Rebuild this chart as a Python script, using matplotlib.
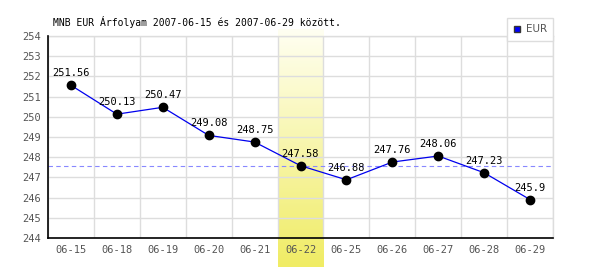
import matplotlib
matplotlib.use("Agg")
import matplotlib.pyplot as plt
import numpy as np
from matplotlib.lines import Line2D

dates = ["06-15", "06-18", "06-19", "06-20", "06-21", "06-22",
         "06-25", "06-26", "06-27", "06-28", "06-29"]
rates = [251.56, 250.13, 250.47, 249.08, 248.75, 247.58,
         246.88, 247.76, 248.06, 247.23, 245.9]
labels = ["251.56", "250.13", "250.47", "249.08", "248.75", "247.58",
          "246.88", "247.76", "248.06", "247.23", "245.9"]
highlight = "06-22"
title = "MNB EUR Árfolyam 2007-06-15 és 2007-06-29 között."

mono = "DejaVu Sans Mono"

fig = plt.figure(figsize=(6, 2.7), dpi=100)
ax = fig.add_axes([48 / 600, 1 - 238 / 270, 505 / 600, 202 / 270])

x = np.arange(len(dates))
ymin, ymax = 244, 254

# grid
ax.set_yticks(range(ymin, ymax + 1))
ax.set_xticks(x)
ax.set_xticks(np.arange(-0.5, len(dates), 1), minor=True)
ax.grid(True, axis="y", which="major", color="#dddddd", lw=1, zorder=0)
ax.grid(True, axis="x", which="minor", color="#dddddd", lw=1, zorder=0)
ax.grid(False, axis="x", which="major")

# highlighted column with gradient, reaching below the axis
hi = dates.index(highlight)
per_px = (ymax - ymin) / 202
grad = np.linspace(0, 1, 256).reshape(-1, 1)
cmap = matplotlib.colors.LinearSegmentedColormap.from_list("yel", ["#fffff2", "#f0ec64"])
ax.imshow(grad, extent=[hi - 0.5, hi + 0.5, ymin - 29 * per_px, ymax + 7 * per_px],
          aspect="auto", cmap=cmap, origin="upper", zorder=1, clip_on=False)
ax.set_xlim(-0.5, len(dates) - 0.5)
ax.set_ylim(ymin, ymax)

# reference line at highlighted value
ax.axhline(rates[hi], color="#8888ff", lw=0.8, ls=(0, (4, 3)), zorder=2)

ax.plot(x, rates, color="#0000ee", lw=0.9, zorder=3)
ax.plot(x, rates, "o", color="black", ms=6, zorder=4)
for xi, v, t in zip(x, rates, labels):
    ax.annotate(t, (xi, v), xytext=(0, 5), textcoords="offset points",
                ha="center", va="bottom", fontsize=7.5, family=mono, zorder=5)

ax.set_xticklabels(dates, family=mono, fontsize=7.5, color="#555555")
ax.set_yticklabels([str(v) for v in range(ymin, ymax + 1)], family=mono,
                   fontsize=7.5, color="#555555")
ax.tick_params(length=0, pad=5)
ax.tick_params(axis="x", which="minor", length=0)

for side in ["left", "bottom"]:
    ax.spines[side].set_color("black")
    ax.spines[side].set_linewidth(1.2)
    ax.spines[side].set_zorder(6)
for side in ["top", "right"]:
    ax.spines[side].set_color("#dddddd")
    ax.spines[side].set_linewidth(1)

fig.text(53 / 600, 1 - 22 / 270, title, family=mono, fontsize=7,
         ha="left", va="center")

handle = Line2D([], [], marker="s", ls="none", markerfacecolor="#0000ff",
                markeredgecolor="#333333", markersize=5)
leg = fig.legend([handle], ["EUR"], loc="upper right",
                 bbox_to_anchor=(553 / 600, 1 - 18 / 270), fancybox=False,
                 framealpha=1, edgecolor="#dddddd", fontsize=7.5,
                 handlelength=0.8, handletextpad=0.4, borderpad=0.6,
                 borderaxespad=0)
leg.get_frame().set_linewidth(1)
for t in leg.get_texts():
    t.set_color("#555555")

fig.savefig("out.png", dpi=100)
